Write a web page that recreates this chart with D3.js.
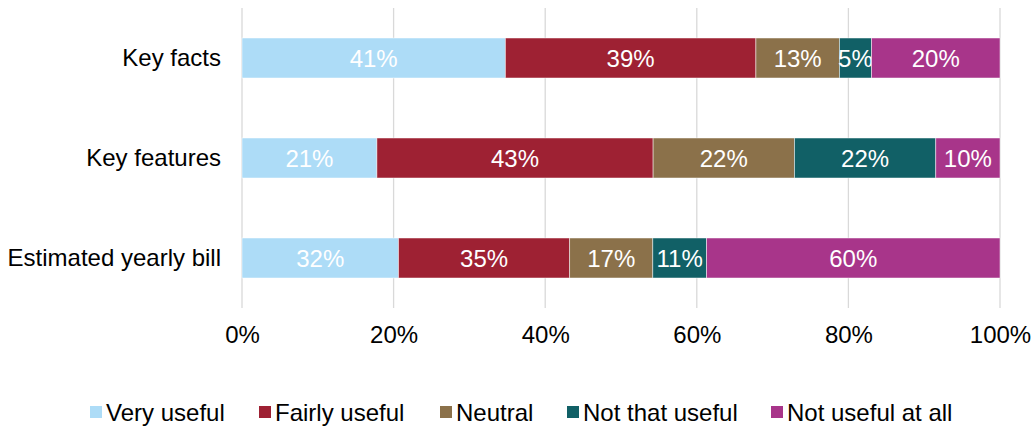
<!DOCTYPE html>
<html><head><meta charset="utf-8">
<script src="https://cdn.jsdelivr.net/npm/d3@7"></script>
<style>body{margin:0;background:#fff}svg{display:block;font-family:"Liberation Sans",Arial,sans-serif}</style>
</head><body><svg id="c" width="1033" height="430"></svg>
<script>
const categories = ["Key facts", "Key features", "Estimated yearly bill"];
const seriesNames = ["Very useful", "Fairly useful", "Neutral", "Not that useful", "Not useful at all"];
const veryUseful = [41, 21, 32];
const fairlyUseful = [39, 43, 35];
const neutral = [13, 22, 17];
const notThatUseful = [5, 22, 11];
const notUsefulAtAll = [20, 10, 60];
const colors = ["#ADDCF7", "#9E2133", "#8B714A", "#116066", "#A8358A"];
const tickValues = [0, 0.2, 0.4, 0.6, 0.8, 1.0];

const FS = 24;
const seriesValues = [veryUseful, fairlyUseful, neutral, notThatUseful, notUsefulAtAll];
const rows = categories.map((c, i) => {
  const r = {cat: c};
  seriesNames.forEach((s, j) => r[s] = seriesValues[j][i]);
  return r;
});
const stacked = d3.stack().keys(seriesNames).offset(d3.stackOffsetExpand)(rows);

const svg = d3.select("#c");
const x = d3.scaleLinear().domain([0, 1]).range([242, 1000]);
const y = d3.scaleBand().domain(categories).range([8, 308]).paddingInner(0.6).paddingOuter(0.3);

// gridlines
svg.append("g").selectAll("line").data(tickValues).join("line")
  .attr("x1", d => x(d)).attr("x2", d => x(d))
  .attr("y1", 8).attr("y2", 308)
  .attr("stroke", "#d9d9d9").attr("stroke-width", 1.3);

// bars
const g = svg.append("g");
stacked.forEach((s, j) => {
  g.append("g").selectAll("rect").data(s).join("rect")
    .attr("x", d => x(d[0])).attr("width", d => x(d[1]) - x(d[0]))
    .attr("y", d => y(d.data.cat)).attr("height", y.bandwidth())
    .attr("fill", colors[j]).attr("stroke", "#ffffff").attr("stroke-opacity", 0.6).attr("stroke-width", 0.8);
  g.append("g").selectAll("text").data(s).join("text")
    .attr("x", d => (x(d[0]) + x(d[1])) / 2)
    .attr("y", d => y(d.data.cat) + y.bandwidth() / 2)
    .attr("dy", "0.36em").attr("text-anchor", "middle")
    .attr("fill", "#fff").attr("font-size", FS)
    .text(d => d.data[s.key] + "%");
});

// y axis labels
const yAxis = d3.axisLeft(y).tickSize(0).tickPadding(21);
const ya = svg.append("g").attr("transform", "translate(242,0)").call(yAxis);
ya.select(".domain").remove();
ya.selectAll("text").attr("font-size", FS).attr("fill", "#000").attr("font-family", "Liberation Sans, Arial, sans-serif");

// x axis
const xAxis = d3.axisBottom(x).tickValues(tickValues).tickFormat(d3.format(".0%")).tickSize(0).tickPadding(16);
const xa = svg.append("g").attr("transform", "translate(0,310)").call(xAxis);
xa.select(".domain").remove();
xa.selectAll("text").attr("font-size", FS).attr("fill", "#000").attr("font-family", "Liberation Sans, Arial, sans-serif");

// legend
const legendX = [90, 259, 440, 567, 771];
const lg = svg.append("g").selectAll("g").data(seriesNames).join("g")
  .attr("transform", (d, i) => `translate(${legendX[i]},412)`);
lg.append("rect").attr("x", 0).attr("y", -6).attr("width", 12).attr("height", 12)
  .attr("fill", (d, i) => colors[i]);
lg.append("text").attr("x", 16).attr("dy", "0.36em").attr("font-size", FS).attr("fill", "#000").text(d => d);
</script></body></html>
